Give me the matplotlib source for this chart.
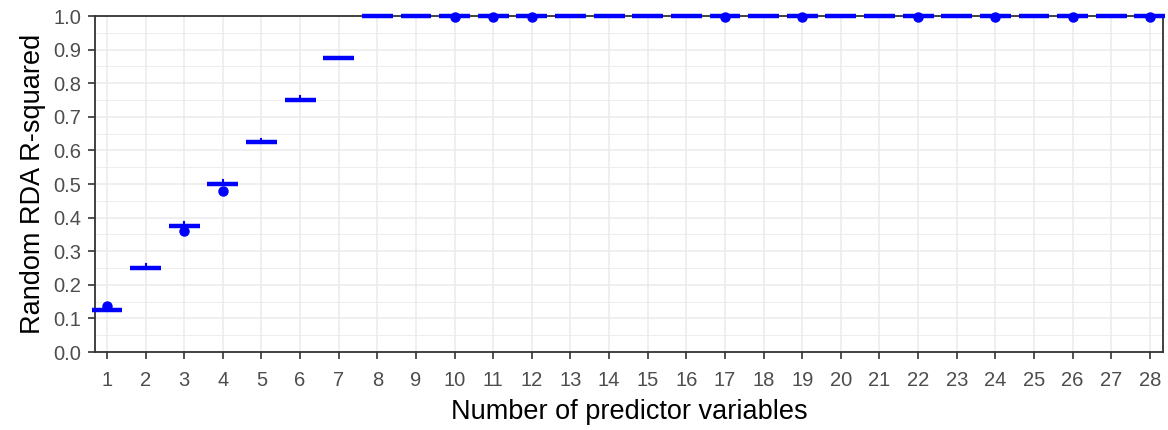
import matplotlib
matplotlib.use("Agg")
import matplotlib.pyplot as plt
import numpy as np

plt.rcParams["font.family"] = ["Liberation Sans", "DejaVu Sans"]

# number of predictors per random RDA
n_pred = list(range(1, 29))
# median R-squared per group (boxes are essentially flat)
medians = [0.125, 0.25, 0.375, 0.5, 0.625, 0.75, 0.875] + [1.0] * 21
# upper whisker end
whisk_hi = [0.125, 0.262, 0.387, 0.511, 0.635, 0.761, 0.875] + [1.0] * 21
# outlying runs
outliers = {1: [0.137], 3: [0.36], 4: [0.48],
            10: [0.997], 11: [0.997], 12: [0.997], 17: [0.997], 19: [0.997],
            22: [0.997], 24: [0.997], 26: [0.997], 28: [0.997]}

stats = []
for k, med, hi in zip(n_pred, medians, whisk_hi):
    stats.append(dict(med=med, q1=med, q3=med, whislo=med, whishi=hi,
                      fliers=outliers.get(k, [])))

fig = plt.figure(figsize=(11.68, 4.30), dpi=100)
ax = fig.add_axes([95 / 1168, 1 - 352 / 430, 1068 / 1168, 336 / 430])

blue = "#0000FF"
parts = ax.bxp(stats, positions=n_pred, widths=0.8, showcaps=False, patch_artist=True,
               boxprops=dict(facecolor="white", edgecolor=blue, linewidth=1.5),
               whiskerprops=dict(color=blue, linewidth=1.5),
               medianprops=dict(color=blue, linewidth=3.2, solid_capstyle="butt"),
               flierprops=dict(marker="o", markerfacecolor=blue, markeredgecolor=blue,
                               markersize=6.5),
               zorder=3)
# the saturated groups sit on the top border, so let them draw over it
for group in parts.values():
    for artist in group:
        artist.set_clip_on(False)

ax.set_xlim(0.69, 28.34)
ax.set_ylim(0, 1.0)
ax.set_xticks(n_pred)
ax.set_xticklabels([str(k) for k in n_pred])
ax.set_yticks(np.arange(0, 1.01, 0.1))
ax.set_yticklabels([f"{v:.1f}" for v in np.arange(0, 1.01, 0.1)])
ax.set_yticks(np.arange(0.05, 1.0, 0.1), minor=True)

ax.grid(True, which="major", color="#EBEBEB", linewidth=1.1, zorder=0)
ax.grid(True, which="minor", axis="y", color="#EBEBEB", linewidth=0.6, zorder=0)
ax.set_axisbelow(True)

for s in ax.spines.values():
    s.set_color("#333333")
    s.set_linewidth(1.3)
ax.tick_params(axis="both", which="major", colors="#333333", labelcolor="#4D4D4D",
               labelsize=14.5, length=5, width=1.2)
ax.tick_params(axis="x", pad=9)
ax.tick_params(axis="y", pad=5)
ax.tick_params(axis="y", which="minor", length=0)

ax.set_xlabel("Number of predictor variables", fontsize=19.5, color="black", labelpad=6)
ax.set_ylabel("Random RDA R-squared", fontsize=19.5, color="black", labelpad=5)

fig.savefig("out.png", dpi=100)
